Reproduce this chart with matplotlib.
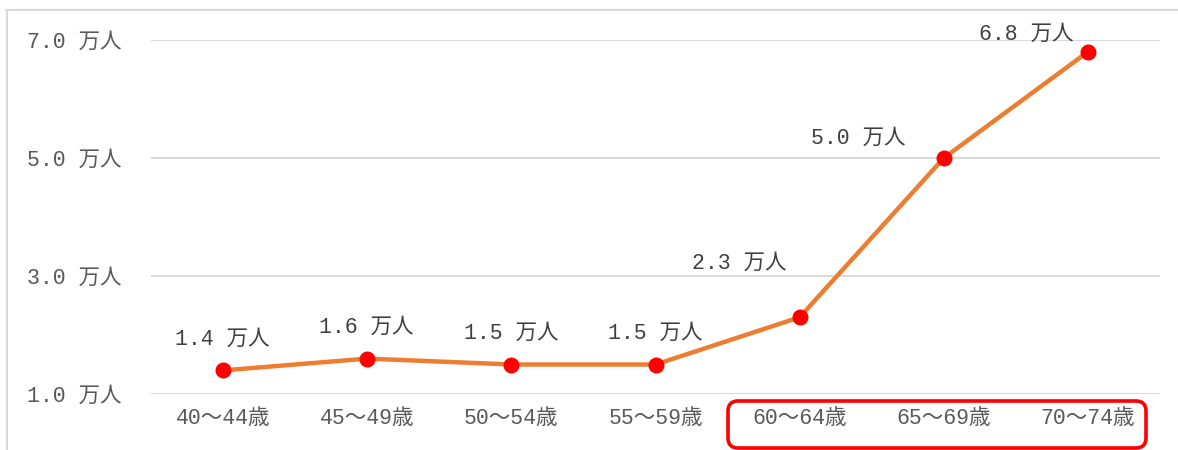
import matplotlib
matplotlib.use("Agg")
import matplotlib.pyplot as plt
from matplotlib.patches import FancyBboxPatch
from matplotlib.lines import Line2D

# Monospaced digits with a Japanese fallback for 万人 / 歳 / ～
FONTS = ['Liberation Mono', 'Noto Sans CJK JP', 'DejaVu Sans']
plt.rcParams['font.family'] = FONTS

# Age groups and counts (in 万人)
age_groups = ["40～44歳", "45～49歳", "50～54歳", "55～59歳", "60～64歳", "65～69歳", "70～74歳"]
counts = [1.4, 1.6, 1.5, 1.5, 2.3, 5.0, 6.8]
y_ticks = [1.0, 3.0, 5.0, 7.0]
unit = "万人"

# Label placement relative to each point, in pixels
label_offsets = [(-1, 31), (-1, 31), (0, 31), (0, 31), (-60, 54), (-86, 20), (-62, 17)]

W, H, DPI = 1178, 450, 100
fig = plt.figure(figsize=(W / DPI, H / DPI), dpi=DPI)
fig.patch.set_facecolor("white")

ax = fig.add_axes([151 / W, (H - 394) / H, (1160 - 151) / W, (394 - 40) / H])
x = list(range(len(age_groups)))
ax.plot(x, counts, color="#ED7D31", linewidth=3.2, zorder=3, solid_capstyle="round")
ax.plot(x, counts, linestyle="none", marker="o", markersize=10.5,
        markerfacecolor="#FF0000", markeredgecolor="#FF0000", zorder=4, clip_on=False)

ax.set_xlim(-0.5, len(age_groups) - 0.5)
ax.set_ylim(1.0, 7.0)
ax.set_yticks(y_ticks)
ax.set_yticklabels([f"{v:.1f} {unit}" for v in y_ticks])
ax.set_xticks(x)
ax.set_xticklabels(age_groups)
ax.grid(axis="y", color="#D9D9D9", linewidth=1.4, zorder=0)
ax.set_axisbelow(True)
for s in ax.spines.values():
    s.set_visible(False)
ax.tick_params(axis="both", length=0, colors="#595959", labelsize=15.5)
ax.tick_params(axis="y", pad=21)
ax.tick_params(axis="x", pad=10)

for xi, v, (dx, dy) in zip(x, counts, label_offsets):
    ax.annotate(f"{v:.1f} {unit}", (xi, v), xytext=(dx, dy), textcoords="offset pixels",
                ha="center", va="center", fontsize=15.5, color="#404040", zorder=5)

# Outer frame of the chart area
inch = fig.dpi_scale_trans
fig.add_artist(Line2D([0.07, 0.07], [0, 4.40], transform=inch, color="#D9D9D9", linewidth=1.5))
fig.add_artist(Line2D([0.06, W / DPI], [4.40, 4.40], transform=inch, color="#D9D9D9", linewidth=1.5))

# Highlight box around the 60+ age groups
box = FancyBboxPatch((7.28, 0.02), 4.18, 0.47, transform=inch,
                     boxstyle="round,pad=0,rounding_size=0.1",
                     fill=False, edgecolor="#FF0000", linewidth=2.6)
fig.add_artist(box)

fig.savefig("out.png", dpi=DPI, facecolor="white")
